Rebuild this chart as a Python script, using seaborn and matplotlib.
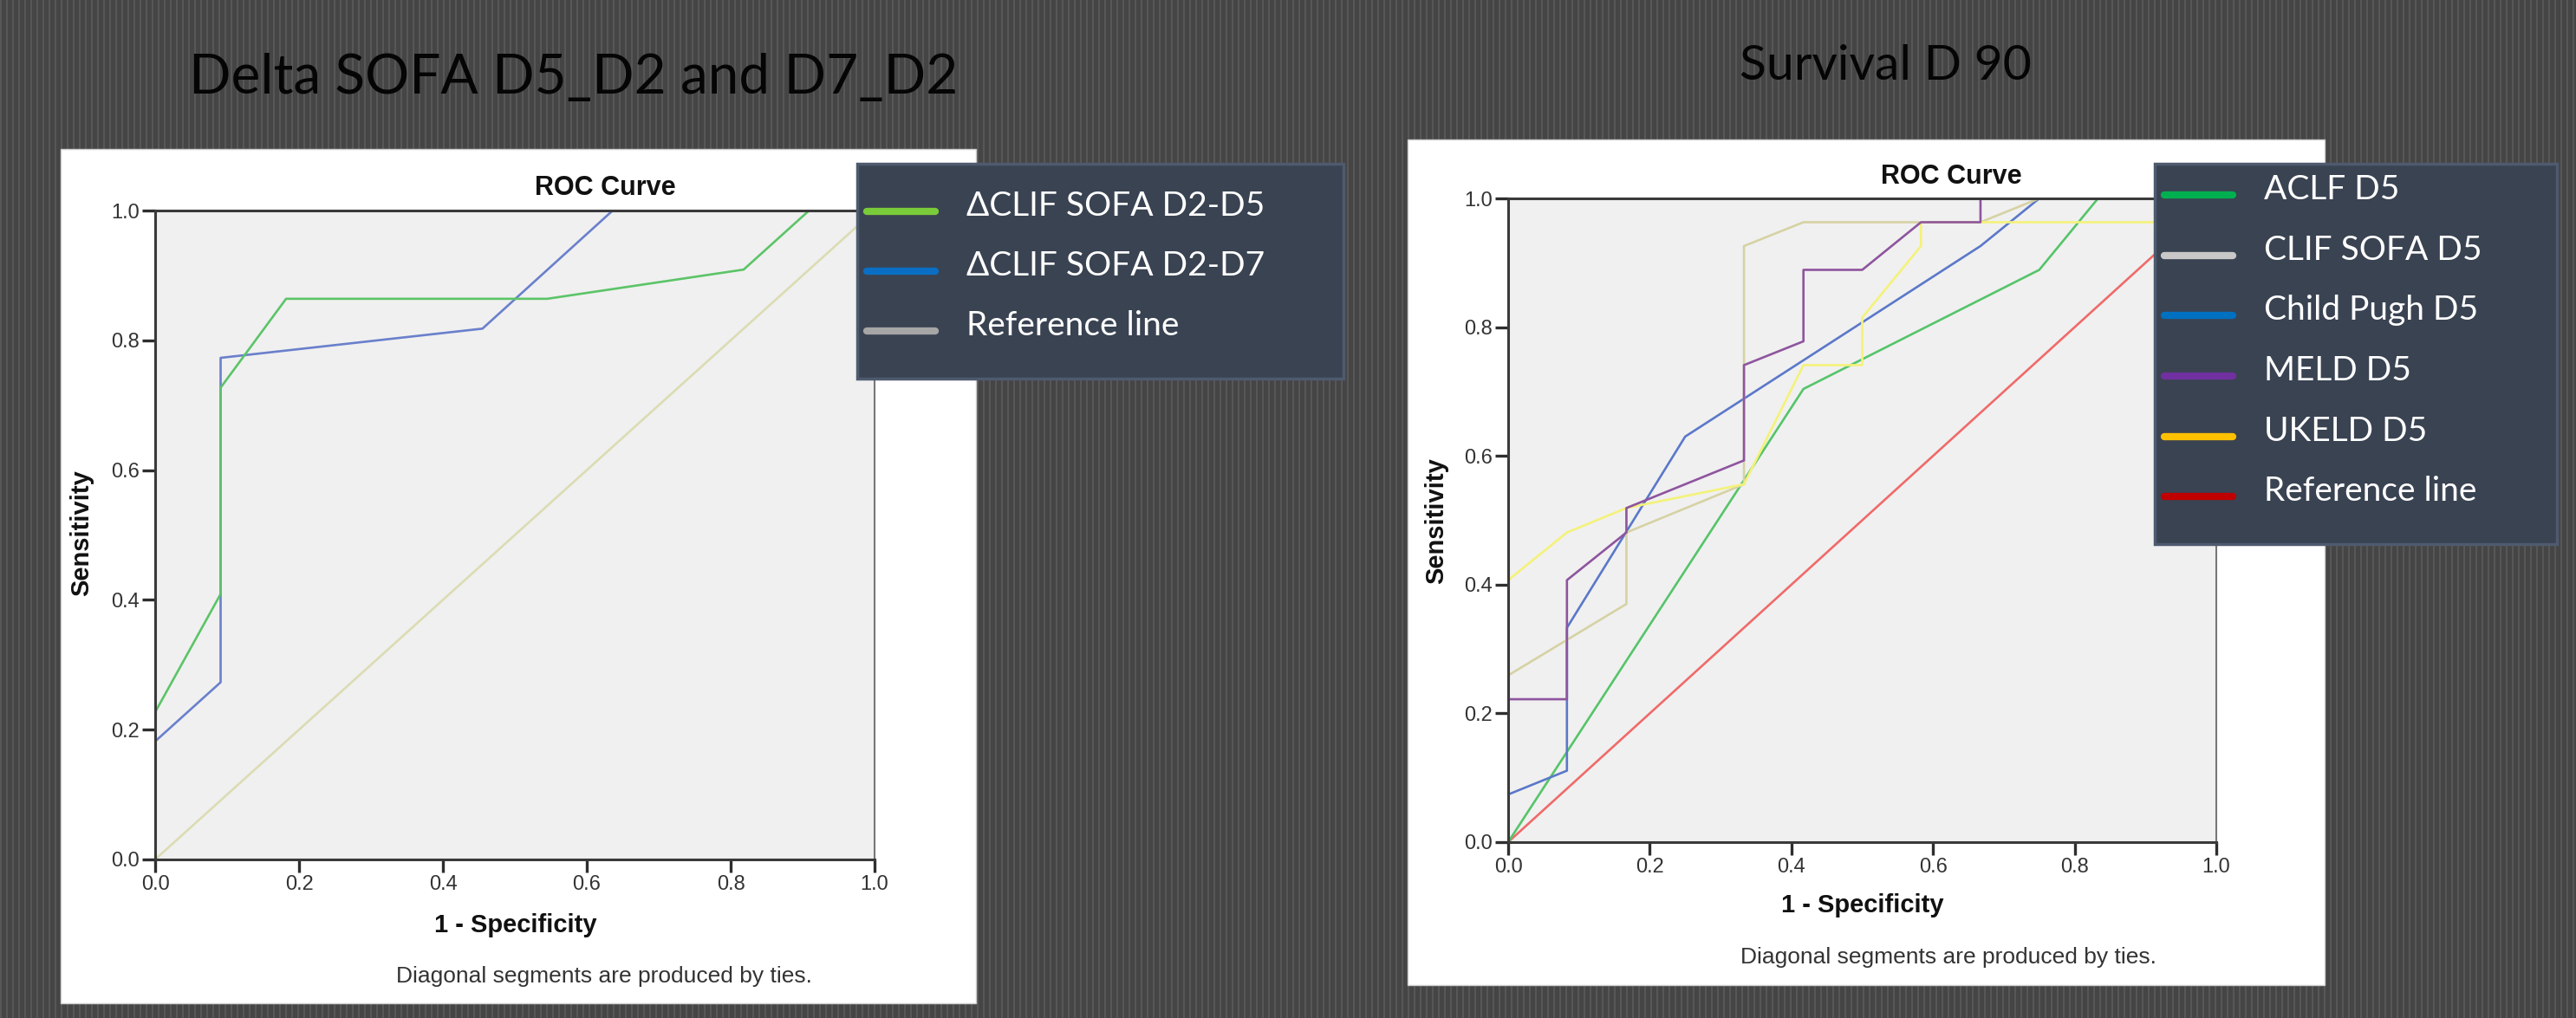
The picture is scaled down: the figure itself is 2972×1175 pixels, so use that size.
import numpy as np
import pandas as pd
import matplotlib
matplotlib.use("Agg")
import matplotlib.pyplot as plt
import seaborn as sns
from matplotlib.patches import Rectangle
from matplotlib.lines import Line2D

W, H = 2972, 1175

# ---- data: left panel (Delta SOFA) ----
d2d5_x = [0, 0, 0.091, 0.091, 0.182, 0.545, 0.818, 0.909, 1.0]
d2d5_y = [0, 0.227, 0.409, 0.727, 0.864, 0.864, 0.909, 1.0, 1.0]
d2d7_x = [0, 0, 0.091, 0.091, 0.455, 0.636, 1.0]
d2d7_y = [0, 0.182, 0.273, 0.773, 0.818, 1.0, 1.0]
ref_x = [0, 1.0]
ref_y = [0, 1.0]

# ---- data: right panel (Survival D 90) ----
aclf_x = [0, 0.417, 0.75, 0.833, 1.0]
aclf_y = [0, 0.704, 0.889, 1.0, 1.0]
clif_x = [0, 0, 0.167, 0.167, 0.333, 0.333, 0.417, 0.667, 0.75, 1.0]
clif_y = [0, 0.259, 0.370, 0.481, 0.556, 0.926, 0.963, 0.963, 1.0, 1.0]
child_x = [0, 0, 0.083, 0.083, 0.25, 0.667, 0.75, 1.0]
child_y = [0, 0.074, 0.111, 0.333, 0.630, 0.926, 1.0, 1.0]
meld_x = [0, 0, 0.083, 0.083, 0.167, 0.167, 0.333, 0.333, 0.417, 0.417, 0.5, 0.583, 0.667, 0.667, 1.0]
meld_y = [0, 0.222, 0.222, 0.407, 0.481, 0.519, 0.593, 0.741, 0.778, 0.889, 0.889, 0.963, 0.963, 1.0, 1.0]
ukeld_x = [0, 0, 0.083, 0.167, 0.333, 0.417, 0.5, 0.5, 0.583, 0.583, 1.0, 1.0]
ukeld_y = [0, 0.407, 0.481, 0.519, 0.556, 0.741, 0.741, 0.815, 0.926, 0.963, 0.963, 1.0]

ticks = [0.0, 0.2, 0.4, 0.6, 0.8, 1.0]
tick_labels = ["0.0", "0.2", "0.4", "0.6", "0.8", "1.0"]

left_labels = ["\u0394CLIF SOFA D2-D5", "\u0394CLIF SOFA D2-D7", "Reference line"]
left_legend_colors = ["#7ACB3A", "#0A6FC4", "#A6A6A6"]
right_labels = ["ACLF D5", "CLIF SOFA D5", "Child Pugh D5", "MELD D5", "UKELD D5", "Reference line"]
right_legend_colors = ["#00B050", "#C8C8C8", "#0070C0", "#7030A0", "#FFC000", "#C00000"]

sns.set_theme(style="ticks")
plt.rcParams['font.family'] = ['Liberation Sans', 'DejaVu Sans']


def fx(x):
    return x / W


def fy(y):
    return 1 - y / H


fig = plt.figure(figsize=(W / 100, H / 100), dpi=100)

# striped dark background
bg = fig.add_axes([0, 0, 1, 1], zorder=-5)
stripes = np.where(np.arange(W) % 7 < 2, 0.34, 0.27)[None, :]
bg.imshow(stripes, cmap="gray", vmin=0, vmax=1, aspect="auto", interpolation="nearest")
bg.axis("off")

# white panels
for (x0, y0, x1, y1) in [(70, 172, 1126, 1158), (1624, 161, 2682, 1137)]:
    fig.patches.append(Rectangle((fx(x0), fy(y1)), fx(x1) - fx(x0), fy(y0) - fy(y1),
                                 transform=fig.transFigure, facecolor="white",
                                 edgecolor="#cfcfcf", lw=1, zorder=1))


def roc_axes(rect, curves):
    x0, y0, x1, y1 = rect
    ax = fig.add_axes([fx(x0), fy(y1), fx(x1) - fx(x0), fy(y0) - fy(y1)])
    ax.set_zorder(2)
    ax.set_facecolor("#F0F0F0")
    for xs, ys, c in curves:
        df = pd.DataFrame({"x": xs, "y": ys})
        sns.lineplot(data=df, x="x", y="y", sort=False, estimator=None,
                     color=c, lw=1.9, ax=ax)
    ax.set_xlim(0, 1)
    ax.set_ylim(0, 1)
    ax.set_xticks(ticks)
    ax.set_xticklabels(tick_labels)
    ax.set_yticks(ticks)
    ax.set_yticklabels(tick_labels)
    ax.tick_params(axis="both", direction="out", length=11, width=2.4, color="#2e2e2e",
                   labelsize=17, labelcolor="#333333", pad=2, left=True, bottom=True)
    ax.set_xlabel("")
    ax.set_ylabel("")
    for s in ["left", "bottom", "top"]:
        ax.spines[s].set_visible(True)
        ax.spines[s].set_color("#3a3a3a")
        ax.spines[s].set_linewidth(2.2)
    ax.spines["right"].set_visible(True)
    ax.spines["right"].set_color("#777777")
    ax.spines["right"].set_linewidth(1.5)
    return ax


ax1 = roc_axes((179, 243, 1009, 992), [
    (ref_x, ref_y, "#DCDCB4"),
    (d2d7_x, d2d7_y, "#6A80CC"),
    (d2d5_x, d2d5_y, "#5CC468"),
])
ax2 = roc_axes((1740, 229, 2557, 972), [
    (ref_x, ref_y, "#F06A6A"),
    (aclf_x, aclf_y, "#56C46A"),
    (child_x, child_y, "#5B78C9"),
    (clif_x, clif_y, "#D6D2A4"),
    (ukeld_x, ukeld_y, "#F4F27A"),
    (meld_x, meld_y, "#8E559E"),
])

# SPSS chart texts
for cx, roc_y, xl_x, xl_y, dg_x, dg_y, sy_x, sy_y in [
        (698, 217, 595, 1068, 697, 1127, 94, 615),
        (2251, 204, 2149, 1045, 2248, 1105, 1657, 601)]:
    fig.text(fx(cx), fy(roc_y), "ROC Curve", ha="center", va="center",
             fontsize=22, fontweight="bold", color="#111111", zorder=5)
    fig.text(fx(xl_x), fy(xl_y), "1 - Specificity", ha="center", va="center",
             fontsize=21, fontweight="bold", color="#111111", zorder=5)
    fig.text(fx(dg_x), fy(dg_y), "Diagonal segments are produced by ties.", ha="center",
             va="center", fontsize=19, color="#333333", zorder=5)
    fig.text(fx(sy_x), fy(sy_y), "Sensitivity", ha="center", va="center", rotation=90,
             fontsize=21, fontweight="bold", color="#111111", zorder=5)

# slide titles
fig.text(fx(662), fy(90), "Delta SOFA D5_D2 and D7_D2", ha="center", va="center",
         fontsize=46, color="#050505", family=["Lato", "DejaVu Sans"], zorder=5)
fig.text(fx(2175), fy(76), "Survival D 90", ha="center", va="center",
         fontsize=41, color="#050505", family=["Lato", "DejaVu Sans"], zorder=5)


def draw_legend(box, labels, colors, rows, hx0, hx1, tx):
    x0, y0, x1, y1 = box
    fig.patches.append(Rectangle((fx(x0), fy(y1)), fx(x1) - fx(x0), fy(y0) - fy(y1),
                                 transform=fig.transFigure, facecolor="#3A4352",
                                 edgecolor="#4E5A6E", lw=2.5, zorder=10))
    for lab, c, ry in zip(labels, colors, rows):
        fig.lines.append(Line2D([fx(hx0), fx(hx1)], [fy(ry), fy(ry)], color=c, lw=6,
                                transform=fig.transFigure, zorder=11))
        fig.text(fx(tx), fy(ry - 6), lab, ha="left", va="center", fontsize=28,
                 color="white", family=["Lato", "DejaVu Sans"], zorder=12)


draw_legend((989, 189, 1550, 437), left_labels, left_legend_colors,
            [244, 313, 382], 1000, 1079, 1115)
draw_legend((2486, 189, 2950, 628), right_labels, right_legend_colors,
            [225, 295, 364, 434, 504, 573], 2497, 2576, 2612)

fig.savefig("out.png", dpi=100)
